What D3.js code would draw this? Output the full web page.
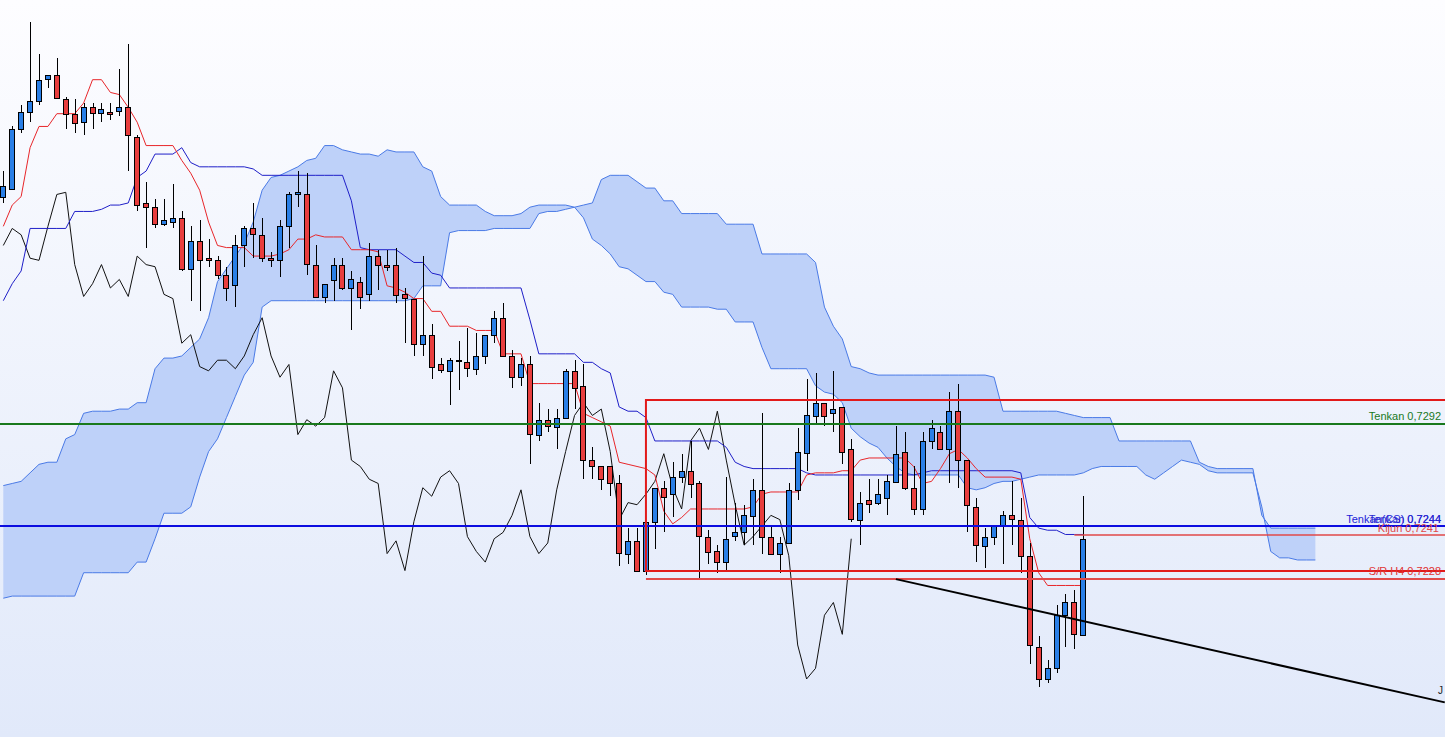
<!DOCTYPE html>
<html>
<head>
<meta charset="utf-8">
<script src="https://cdn.jsdelivr.net/npm/d3@7"></script>
<style>
html,body{margin:0;padding:0;overflow:hidden;background:#fff}
svg{display:block;font-family:"Liberation Sans",Arial,sans-serif}
</style>
</head>
<body>
<svg id="chart" width="1445" height="737"></svg>
<script>
// H4 candles, 122 bars; kumo is plotted 26 bars ahead, chikou 26 bars behind
var opens = [0.7399,0.7403,0.7431,0.7439,0.7444,0.7454,0.7456,0.7445,0.7438,0.7434,
	0.7441,0.7438,0.7439,0.7439,0.7441,0.7427,0.7396,0.7394,0.7386,0.7387,
	0.7389,0.7365,0.7378,0.7370,0.7369,0.7362,0.7357,0.7376,0.7384,0.7381,
	0.7370,0.7369,0.7385,0.7400,0.7400,0.7367,0.7352,0.7360,0.7367,0.7356,
	0.7359,0.7353,0.7371,0.7367,0.7367,0.7353,0.7351,0.7330,0.7334,0.7320,
	0.7317,0.7322,0.7321,0.7318,0.7324,0.7334,0.7342,0.7324,0.7314,0.7320,
	0.7287,0.7294,0.7291,0.7295,0.7317,0.7310,0.7275,0.7272,0.7272,0.7264,
	0.7231,0.7237,0.7223,0.7246,0.7262,0.7259,0.7267,0.7270,0.7264,0.7239,
	0.7232,0.7227,0.7239,0.7241,0.7249,0.7261,0.7239,0.7231,0.7236,0.7261,
	0.7278,0.7296,0.7302,0.7297,0.7300,0.7280,0.7247,0.7256,0.7255,0.7257,
	0.7265,0.7279,0.7262,0.7252,0.7284,0.7288,0.7280,0.7298,0.7275,0.7253,
	0.7235,0.7239,0.7244,0.7249,0.7247,0.7230,0.7187,0.7172,0.7177,0.7202,
	0.7208,0.7193];
var highs = [0.7411,0.7432,0.7442,0.7481,0.7466,0.7456,0.7464,0.7446,0.7445,0.7443,
	0.7443,0.7443,0.7443,0.7459,0.7471,0.7428,0.7406,0.7398,0.7398,0.7405,
	0.7392,0.7385,0.7388,0.7379,0.7371,0.7366,0.7381,0.7385,0.7396,0.7389,
	0.7373,0.7388,0.7401,0.7411,0.7410,0.7376,0.7358,0.7370,0.7370,0.7364,
	0.7361,0.7377,0.7374,0.7374,0.7375,0.7356,0.7351,0.7371,0.7339,0.7323,
	0.7323,0.7331,0.7337,0.7335,0.7334,0.7345,0.7349,0.7327,0.7323,0.7324,
	0.7302,0.7299,0.7299,0.7318,0.7322,0.7320,0.7281,0.7272,0.7272,0.7268,
	0.7243,0.7243,0.7246,0.7262,0.7265,0.7274,0.7278,0.7284,0.7265,0.7242,
	0.7235,0.7267,0.7255,0.7254,0.7266,0.7297,0.7244,0.7239,0.7264,0.7290,
	0.7313,0.7316,0.7302,0.7317,0.7300,0.7285,0.7260,0.7266,0.7266,0.7268,
	0.7291,0.7288,0.7272,0.7288,0.7294,0.7291,0.7307,0.7311,0.7275,0.7257,
	0.7243,0.7244,0.7251,0.7265,0.7257,0.7236,0.7192,0.7181,0.7207,0.7212,
	0.7214,0.7258];
var lows = [0.7396,0.7402,0.7429,0.7434,0.7442,0.7450,0.7445,0.7431,0.7429,0.7428,
	0.7431,0.7434,0.7435,0.7437,0.7411,0.7392,0.7375,0.7384,0.7385,0.7384,
	0.7364,0.7350,0.7345,0.7366,0.7360,0.7350,0.7347,0.7366,0.7370,0.7368,
	0.7366,0.7361,0.7375,0.7394,0.7362,0.7352,0.7349,0.7350,0.7355,0.7336,
	0.7346,0.7350,0.7355,0.7364,0.7349,0.7330,0.7324,0.7324,0.7313,0.7316,
	0.7301,0.7308,0.7314,0.7315,0.7320,0.7330,0.7324,0.7309,0.7310,0.7273,
	0.7284,0.7288,0.7280,0.7295,0.7299,0.7266,0.7266,0.7261,0.7258,0.7225,
	0.7226,0.7223,0.7221,0.7233,0.7241,0.7248,0.7264,0.7257,0.7219,0.7226,
	0.7222,0.7223,0.7237,0.7235,0.7235,0.7231,0.7231,0.7222,0.7236,0.7256,
	0.7270,0.7292,0.7291,0.7288,0.7273,0.7246,0.7235,0.7250,0.7254,0.7249,
	0.7264,0.7261,0.7249,0.7249,0.7280,0.7280,0.7264,0.7262,0.7241,0.7227,
	0.7224,0.7235,0.7226,0.7235,0.7222,0.7179,0.7168,0.7170,0.7175,0.7187,
	0.7186,0.7192];
var closes = [0.7404,0.7431,0.7439,0.7444,0.7454,0.7456,0.7445,0.7438,0.7434,0.7441,
	0.7438,0.7440,0.7438,0.7441,0.7428,0.7395,0.7394,0.7386,0.7388,0.7389,
	0.7365,0.7378,0.7369,0.7369,0.7362,0.7356,0.7376,0.7384,0.7381,0.7370,
	0.7369,0.7385,0.7400,0.7401,0.7367,0.7352,0.7358,0.7367,0.7356,0.7360,
	0.7352,0.7371,0.7367,0.7366,0.7353,0.7351,0.7330,0.7334,0.7319,0.7317,
	0.7322,0.7322,0.7318,0.7324,0.7334,0.7342,0.7324,0.7314,0.7320,0.7287,
	0.7294,0.7291,0.7295,0.7317,0.7309,0.7275,0.7272,0.7266,0.7264,0.7231,
	0.7237,0.7223,0.7246,0.7262,0.7258,0.7267,0.7270,0.7264,0.7239,0.7232,
	0.7227,0.7238,0.7241,0.7249,0.7261,0.7239,0.7231,0.7236,0.7261,0.7279,
	0.7296,0.7302,0.7296,0.7299,0.7279,0.7247,0.7255,0.7254,0.7259,0.7265,
	0.7278,0.7262,0.7252,0.7284,0.7290,0.7280,0.7298,0.7275,0.7254,0.7235,
	0.7239,0.7244,0.7249,0.7247,0.7230,0.7188,0.7172,0.7177,0.7202,0.7208,
	0.7193,0.7238];

var tenkan = [0.7385,0.7395,0.7399,0.7422,0.7432,0.7432,0.7438,0.7438,0.7438,0.7443,
	0.7454,0.7454,0.7448,0.7447,0.7441,0.7434,0.7423,0.7423,0.7423,0.7423,
	0.7416,0.7410,0.7402,0.7387,0.7376,0.7375,0.7375,0.7375,0.7371,0.7371,
	0.7371,0.7372,0.7374,0.7379,0.7379,0.7381,0.7380,0.7380,0.7380,0.7374,
	0.7374,0.7374,0.7373,0.7357,0.7356,0.7354,0.7351,0.7351,0.7345,0.7345,
	0.7338,0.7338,0.7338,0.7336,0.7336,0.7336,0.7325,0.7325,0.7325,0.7311,
	0.7311,0.7311,0.7311,0.7311,0.7311,0.7297,0.7295,0.7293,0.7291,0.7274,
	0.7273,0.7272,0.7271,0.7268,0.7251,0.7245,0.7248,0.7252,0.7252,0.7252,
	0.7252,0.7252,0.7252,0.7252,0.7253,0.7259,0.7260,0.7260,0.7260,0.7260,
	0.7268,0.7269,0.7269,0.7269,0.7270,0.7270,0.7275,0.7276,0.7276,0.7276,
	0.7276,0.7276,0.7272,0.7264,0.7265,0.7271,0.7278,0.7280,0.7276,0.7271,
	0.7267,0.7267,0.7267,0.7267,0.7266,0.7238,0.7222,0.7216,0.7216,0.7216,
	0.7216,0.7216];
var kijun = [0.7350,0.7358,0.7364,0.7384,0.7384,0.7384,0.7384,0.7384,0.7392,0.7392,
	0.7392,0.7393,0.7395,0.7395,0.7396,0.7408,0.7411,0.7419,0.7419,0.7419,
	0.7422,0.7415,0.7413,0.7413,0.7413,0.7413,0.7413,0.7413,0.7412,0.7409,
	0.7409,0.7409,0.7409,0.7409,0.7409,0.7409,0.7409,0.7409,0.7409,0.7397,
	0.7375,0.7374,0.7374,0.7374,0.7374,0.7371,0.7368,0.7368,0.7363,0.7362,
	0.7356,0.7356,0.7356,0.7356,0.7356,0.7356,0.7356,0.7356,0.7356,0.7341,
	0.7325,0.7325,0.7325,0.7325,0.7325,0.7321,0.7321,0.7318,0.7316,0.7300,
	0.7298,0.7298,0.7295,0.7284,0.7284,0.7284,0.7284,0.7284,0.7284,0.7284,
	0.7284,0.7281,0.7274,0.7272,0.7271,0.7271,0.7271,0.7271,0.7271,0.7271,
	0.7269,0.7268,0.7268,0.7268,0.7268,0.7268,0.7268,0.7268,0.7268,0.7268,
	0.7268,0.7268,0.7268,0.7269,0.7270,0.7270,0.7270,0.7270,0.7270,0.7270,
	0.7270,0.7270,0.7270,0.7270,0.7269,0.7248,0.7243,0.7242,0.7242,0.7240,
	0.7240,0.7240];

// kumo edges, 148 points (122 bars + 26 ahead)
var cloudTop = [0.7263,0.7264,0.7265,0.7269,0.7273,0.7274,0.7274,0.7285,0.7287,0.7297,
	0.7298,0.7298,0.7298,0.7299,0.7299,0.7302,0.7302,0.7318,0.7323,0.7323,
	0.7324,0.7328,0.7332,0.7342,0.7359,0.7365,0.7371,0.7377,0.7387,0.7402,
	0.7408,0.7409,0.7411,0.7413,0.7416,0.7417,0.7423,0.7423,0.7421,0.7420,
	0.7419,0.7419,0.7418,0.7421,0.7420,0.7420,0.7420,0.7413,0.7411,0.7399,
	0.7395,0.7395,0.7395,0.7395,0.7392,0.7390,0.7390,0.7390,0.7391,0.7394,
	0.7395,0.7395,0.7395,0.7395,0.7394,0.7395,0.7396,0.7407,0.7409,0.7409,
	0.7409,0.7406,0.7403,0.7403,0.7397,0.7397,0.7391,0.7391,0.7391,0.7391,
	0.7391,0.7386,0.7386,0.7386,0.7386,0.7372,0.7372,0.7372,0.7372,0.7372,
	0.7372,0.7368,0.7347,0.7338,0.7332,0.7319,0.7318,0.7316,0.7315,0.7315,
	0.7315,0.7315,0.7315,0.7315,0.7315,0.7315,0.7315,0.7315,0.7315,0.7315,
	0.7315,0.7314,0.7298,0.7298,0.7298,0.7298,0.7298,0.7298,0.7298,0.7297,
	0.7296,0.7295,0.7295,0.7295,0.7295,0.7284,0.7284,0.7284,0.7284,0.7284,
	0.7284,0.7284,0.7284,0.7284,0.7274,0.7272,0.7271,0.7271,0.7271,0.7271,
	0.7271,0.7249,0.7243,0.7243,0.7243,0.7243,0.7243,0.7243];
var cloudBottom = [0.7210,0.7211,0.7211,0.7211,0.7211,0.7211,0.7211,0.7211,0.7211,0.7222,
	0.7222,0.7222,0.7222,0.7222,0.7222,0.7227,0.7227,0.7238,0.7250,0.7250,
	0.7250,0.7253,0.7267,0.7279,0.7285,0.7295,0.7305,0.7315,0.7321,0.7347,
	0.7350,0.7350,0.7350,0.7350,0.7350,0.7350,0.7350,0.7350,0.7350,0.7350,
	0.7350,0.7350,0.7350,0.7350,0.7350,0.7350,0.7351,0.7357,0.7357,0.7357,
	0.7382,0.7383,0.7383,0.7383,0.7383,0.7384,0.7384,0.7384,0.7384,0.7384,
	0.7391,0.7392,0.7392,0.7393,0.7394,0.7389,0.7379,0.7376,0.7372,0.7366,
	0.7365,0.7362,0.7359,0.7359,0.7354,0.7353,0.7347,0.7347,0.7347,0.7347,
	0.7346,0.7346,0.7340,0.7340,0.7340,0.7328,0.7318,0.7318,0.7318,0.7318,
	0.7318,0.7310,0.7307,0.7306,0.7302,0.7290,0.7286,0.7283,0.7281,0.7276,
	0.7272,0.7269,0.7268,0.7268,0.7268,0.7268,0.7268,0.7268,0.7262,0.7261,
	0.7262,0.7264,0.7265,0.7265,0.7266,0.7267,0.7268,0.7268,0.7268,0.7268,
	0.7268,0.7269,0.7271,0.7272,0.7272,0.7272,0.7272,0.7272,0.7268,0.7266,
	0.7269,0.7272,0.7275,0.7274,0.7273,0.7270,0.7269,0.7269,0.7269,0.7269,
	0.7269,0.7253,0.7232,0.7229,0.7229,0.7228,0.7228,0.7228];

var chikouLag = 26;

// drawn levels
var tenkanLevel = 0.7292;
var tenkanCsLevel = 0.7244;
var kijunLevel = 0.72397;
var kijunLevelFrom = 120;
var boxFrom = 72;
var boxTop = 0.73033;
var boxBottom = 0.72228;
var boxLower = 0.72191;
var trendBars = [100, 161.5];
var trendPrices = [0.7219, 0.7161];
var labelTenkan = "Tenkan 0,7292";
var labelTenkanCs = "Tenkan(CS) 0,7244";
var labelTenkanCs2 = "Tenkan 0,7244";
var labelKijun = "Kijun 0,7241";
var labelSR = "S/R H4 0,7228";
var labelTrend = "J";

var W = 1445, H = 737;
var svg = d3.select("#chart");

var x = d3.scaleLinear().domain([0, 121]).range([3.3, 1083.3]);
var y = d3.scaleLinear().domain([0.71447, 0.74915]).range([H, 0]);

function px(v){ return Math.round(v) + 0.5; }

// background
var grad = svg.append("defs").append("linearGradient")
	.attr("id", "bg").attr("x1", 0).attr("y1", 0).attr("x2", 0).attr("y2", 1);
grad.append("stop").attr("offset", "0%").attr("stop-color", "#fdfdff");
grad.append("stop").attr("offset", "100%").attr("stop-color", "#e1e9fa");
svg.append("rect").attr("width", W).attr("height", H).attr("fill", "url(#bg)");

// kumo
var kumo = svg.append("g").attr("id", "kumo");
kumo.append("path")
	.datum(cloudTop)
	.attr("d", d3.area()
		.x(function(d, i){ return x(i); })
		.y0(function(d, i){ return y(cloudBottom[i]); })
		.y1(function(d){ return y(d); }))
	.attr("fill", "#bed1f9");

var edge = d3.line().x(function(d, i){ return x(i); }).y(function(d){ return y(d); });
kumo.selectAll("path.edge")
	.data([cloudTop, cloudBottom])
	.enter().append("path")
	.attr("class", "edge")
	.attr("d", edge)
	.attr("fill", "none")
	.attr("stroke", "#4a7ae6")
	.attr("stroke-width", 1);

// chikou = closes drawn 26 bars back
var chikou = closes.slice(chikouLag);
svg.append("path")
	.datum(chikou)
	.attr("d", edge)
	.attr("fill", "none")
	.attr("stroke", "#111")
	.attr("stroke-width", 1);

svg.append("path")
	.datum(kijun)
	.attr("d", edge)
	.attr("fill", "none")
	.attr("stroke", "#1f1fc8")
	.attr("stroke-width", 1);

svg.append("path")
	.datum(tenkan)
	.attr("d", edge)
	.attr("fill", "none")
	.attr("stroke", "#e8262a")
	.attr("stroke-width", 1);

// candles
var bars = d3.range(opens.length);
var candles = svg.append("g").attr("id", "candles")
	.selectAll("g")
	.data(bars)
	.enter().append("g");

candles.append("line")
	.attr("x1", function(i){ return px(x(i)); })
	.attr("x2", function(i){ return px(x(i)); })
	.attr("y1", function(i){ return Math.round(y(highs[i])); })
	.attr("y2", function(i){ return Math.round(y(lows[i])); })
	.attr("stroke", "#000")
	.attr("stroke-width", 1);

candles.append("rect")
	.attr("x", function(i){ return Math.round(x(i)) - 2.5; })
	.attr("width", 5)
	.attr("y", function(i){ return px(y(Math.max(opens[i], closes[i]))); })
	.attr("height", function(i){
		var h = Math.round(Math.abs(y(opens[i]) - y(closes[i])));
		return Math.max(h, 1);
	})
	.attr("fill", function(i){ return closes[i] >= opens[i] ? "#2a7fe6" : "#e83e3e"; })
	.attr("stroke", "#000")
	.attr("stroke-width", 1);

// levels
var levels = svg.append("g").attr("id", "levels");

levels.append("line")
	.attr("x1", 0).attr("x2", W)
	.attr("y1", y(tenkanLevel)).attr("y2", y(tenkanLevel))
	.attr("stroke", "#19791c").attr("stroke-width", 2);

levels.append("line")
	.attr("x1", 0).attr("x2", W)
	.attr("y1", y(tenkanCsLevel)).attr("y2", y(tenkanCsLevel))
	.attr("stroke", "#0c0ce0").attr("stroke-width", 2);

levels.append("line")
	.attr("x1", x(kijunLevelFrom)).attr("x2", W)
	.attr("y1", y(kijunLevel)).attr("y2", y(kijunLevel))
	.attr("stroke", "#e04848").attr("stroke-width", 1.5);

levels.append("path")
	.attr("d", "M" + W + "," + y(boxTop) + "H" + x(boxFrom) + "V" + y(boxBottom) + "H" + W)
	.attr("fill", "none")
	.attr("stroke", "#e21a1a").attr("stroke-width", 2);

levels.append("line")
	.attr("x1", x(boxFrom)).attr("x2", W)
	.attr("y1", y(boxLower)).attr("y2", y(boxLower))
	.attr("stroke", "#e04a4a").attr("stroke-width", 2);

levels.append("line")
	.attr("x1", x(trendBars[0])).attr("x2", x(trendBars[1]))
	.attr("y1", y(trendPrices[0])).attr("y2", y(trendPrices[1]))
	.attr("stroke", "#000").attr("stroke-width", 2);

// labels
var labels = svg.append("g").attr("id", "labels")
	.attr("font-size", "11px").attr("text-anchor", "end");

labels.append("text").attr("x", 1441).attr("y", y(tenkanLevel) - 4)
	.attr("fill", "#19791c").text(labelTenkan);
labels.append("text").attr("x", 1441).attr("y", y(tenkanCsLevel) - 3)
	.attr("fill", "#1c1cd8").text(labelTenkanCs);
labels.append("text").attr("x", 1441).attr("y", y(tenkanCsLevel) - 3)
	.attr("fill", "#2a2ad0").text(labelTenkanCs2);
labels.append("text").attr("x", 1439).attr("y", y(kijunLevel) - 3)
	.attr("fill", "#e04848").text(labelKijun);
labels.append("text").attr("x", 1441).attr("y", y(boxBottom) + 4)
	.attr("fill", "#e03434").text(labelSR);
labels.append("text").attr("x", 1443).attr("y", y(trendPrices[1]) - 8)
	.attr("fill", "#222").attr("font-size", "10px").text(labelTrend);
</script>
</body>
</html>
